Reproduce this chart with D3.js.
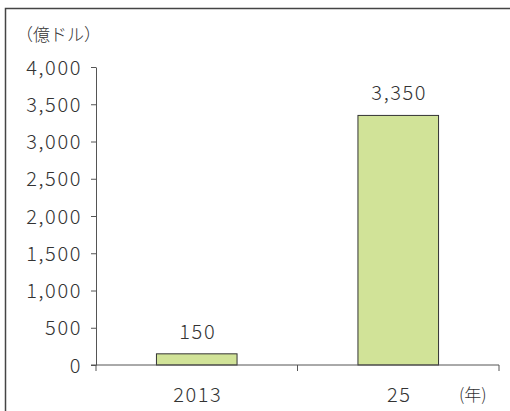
<!DOCTYPE html>
<html>
<head>
<meta charset="utf-8">
<script src="https://cdn.jsdelivr.net/npm/d3@7"></script>
<style>
  body { margin: 0; background: #fff; }
  svg text { font-family: "Noto Sans CJK JP", sans-serif; font-weight: 300; fill: #333; }
</style>
</head>
<body>
<div id="chart"></div>
<script>
const categories = ["2013", "25"];
const values = [150, 3350];
const valueLabels = ["150", "3,350"];
const yTicks = [0, 500, 1000, 1500, 2000, 2500, 3000, 3500, 4000];
const unitLabel = "（億ドル）";
const yearLabel = "(年)";

const width = 510, height = 411;
const margin = {top: 67, right: 11, bottom: 46, left: 96};

const svg = d3.select("#chart").append("svg")
    .attr("width", width).attr("height", height);

// 外枠
svg.append("rect")
    .attr("x", 5.5).attr("y", 8.5)
    .attr("width", 520).attr("height", 420)
    .attr("fill", "none").attr("stroke", "#444").attr("stroke-width", 1.5);

const x = d3.scaleBand()
    .domain(categories)
    .range([margin.left, width - margin.right])
    .paddingInner(0.6).paddingOuter(0.3);

const y = d3.scaleLinear()
    .domain([0, 4000])
    .range([height - margin.bottom, margin.top]);

const fmt = d3.format(",");
const numFont = {size: 20, spacing: 1.6};

// y軸
const yAxis = svg.append("g")
    .attr("transform", `translate(${margin.left},0)`)
    .call(d3.axisLeft(y).tickValues(yTicks).tickFormat(fmt).tickSize(5).tickSizeOuter(0).tickPadding(9));
yAxis.select(".domain").attr("stroke", "#555");
yAxis.selectAll(".tick line").attr("stroke", "#555");
yAxis.selectAll("text").attr("font-size", numFont.size).attr("letter-spacing", numFont.spacing)
    .attr("fill", "#333").attr("font-family", null).attr("dy", "0.35em");

// 棒
svg.selectAll(".bar").data(values).enter().append("rect")
    .attr("class", "bar")
    .attr("x", (d, i) => x(categories[i]))
    .attr("y", d => y(d))
    .attr("width", x.bandwidth())
    .attr("height", d => y(0) - y(d))
    .attr("fill", "#d1e398")
    .attr("stroke", "#333").attr("stroke-width", 1);

// 値ラベル
svg.selectAll(".vlabel").data(values).enter().append("text")
    .attr("class", "vlabel")
    .attr("x", (d, i) => x(categories[i]) + x.bandwidth() / 2 + 1)
    .attr("y", d => y(d) - 15)
    .attr("text-anchor", "middle")
    .attr("font-size", numFont.size).attr("letter-spacing", numFont.spacing)
    .text((d, i) => valueLabels[i]);

// x軸
const x0 = y(0);
const xTickPos = [margin.left, margin.left + (width - margin.right - margin.left) / 2, width - margin.right];
svg.append("line")
    .attr("x1", margin.left - 5).attr("x2", width - margin.right)
    .attr("y1", x0).attr("y2", x0)
    .attr("stroke", "#555");
svg.selectAll(".xtick").data(xTickPos).enter().append("line")
    .attr("x1", d => d).attr("x2", d => d)
    .attr("y1", x0).attr("y2", x0 + 6)
    .attr("stroke", "#555");

svg.selectAll(".xlabel").data(categories).enter().append("text")
    .attr("x", d => x(d) + x.bandwidth() / 2 + 1)
    .attr("y", 402)
    .attr("text-anchor", "middle")
    .attr("font-size", numFont.size).attr("letter-spacing", numFont.spacing)
    .text(d => d);

svg.append("text")
    .attr("x", 459).attr("y", 401)
    .attr("font-size", 17)
    .text(yearLabel);

svg.append("text")
    .attr("x", 16).attr("y", 41)
    .attr("font-size", 17)
    .text(unitLabel);
</script>
</body>
</html>
